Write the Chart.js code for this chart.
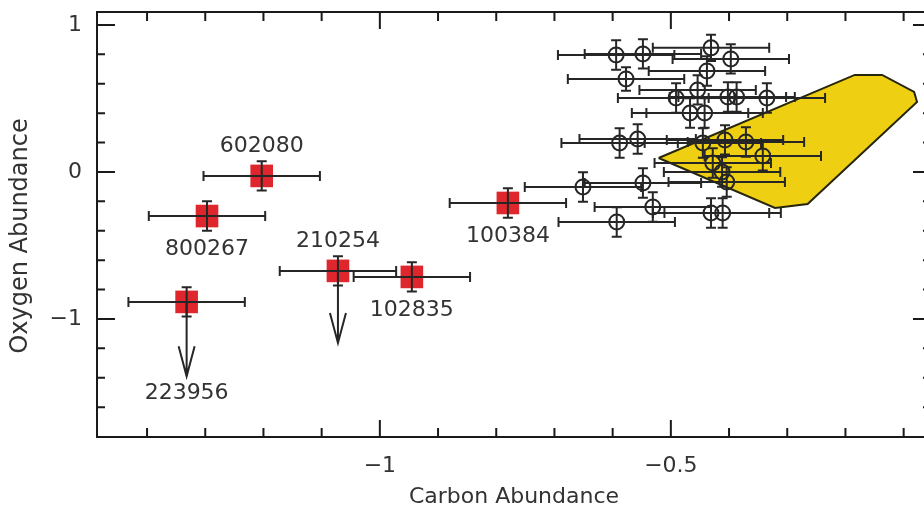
<!DOCTYPE html>
<html>
<head>
<meta charset="utf-8">
<script src="https://cdn.jsdelivr.net/npm/chart.js@4.4.1/dist/chart.umd.min.js"></script>
<style>
  html, body { margin: 0; padding: 0; background: #fff; overflow: hidden; }
  canvas { display: block; margin-top: -4px; }
</style>
</head>
<body>
<canvas id="chart" width="947" height="512"></canvas>
<script>
// labelled stars (red squares)
const starNames = ['602080', '800267', '223956', '210254', '102835', '100384'];
const starCarbon = [-1.203, -1.297, -1.332, -1.072, -0.945, -0.780];
const starOxygen = [-0.027, -0.300, -0.884, -0.673, -0.714, -0.211];
const starCarbonErr = [0.1, 0.1, 0.1, 0.1, 0.1, 0.1];
const starOxygenErr = [0.1, 0.1, 0.1, 0.1, 0.1, 0.1];
const starOxygenLimit = [null, null, -1.39, -1.163, null, null];
const starLabelSide = ['above', 'below', 'below', 'above', 'below', 'below'];

// comparison sample (open circles)
const sampleCarbon = [-0.594, -0.548, -0.431, -0.397, -0.438, -0.577, -0.454, -0.491, -0.402, -0.387,
  -0.335, -0.467, -0.442, -0.588, -0.557, -0.445, -0.407, -0.371, -0.342, -0.428,
  -0.412, -0.404, -0.651, -0.548, -0.531, -0.593, -0.431, -0.411];
const sampleOxygen = [0.796, 0.803, 0.844, 0.769, 0.687, 0.633, 0.558, 0.503, 0.510, 0.510,
  0.503, 0.401, 0.401, 0.197, 0.224, 0.197, 0.218, 0.204, 0.109, 0.061,
  0.000, -0.068, -0.102, -0.075, -0.238, -0.340, -0.279, -0.279];
const sampleCarbonErr = [0.1, 0.1, 0.1, 0.1, 0.1, 0.1, 0.1, 0.1, 0.1, 0.1,
  0.1, 0.1, 0.1, 0.1, 0.1, 0.1, 0.1, 0.1, 0.1, 0.1,
  0.1, 0.1, 0.1, 0.1, 0.1, 0.1, 0.1, 0.1];
const sampleOxygenErr = [0.1, 0.1, 0.09, 0.1, 0.1, 0.08, 0.1, 0.1, 0.1, 0.1,
  0.1, 0.1, 0.1, 0.1, 0.1, 0.1, 0.1, 0.1, 0.1, 0.1,
  0.1, 0.1, 0.1, 0.1, 0.1, 0.1, 0.1, 0.1];

// shaded region
const regionCarbon = [-0.521, -0.184, -0.137, -0.082, -0.077, -0.265, -0.321, -0.521];
const regionOxygen = [0.095, 0.660, 0.660, 0.544, 0.476, -0.218, -0.245, 0.095];

// axes
const xLabelTicks = [-1, -0.5];
const yLabelTicks = [1, 0, -1];
const xMinorTicks = [-1.4, -1.3, -1.2, -1.1, -0.9, -0.8, -0.7, -0.6, -0.4, -0.3, -0.2, -0.1];
const yMinorTicks = [0.8, 0.6, 0.4, 0.2, -0.2, -0.4, -0.6, -0.8, -1.2, -1.4, -1.6];

const FONT = '"DejaVu Sans", sans-serif';
const TEXT = '#333';
const INK = '#262626';

const fmt = v => (v < 0 ? '\u2212' + Math.abs(v) : String(v));
const pts = (xs, ys) => xs.map((v, i) => ({ x: v, y: ys[i] }));

// error bars, upper-limit arrows and star names
const markings = {
  id: 'markings',
  afterDatasetsDraw(chart) {
    const { ctx, scales: { x, y } } = chart;
    ctx.save();
    ctx.strokeStyle = INK;
    ctx.lineWidth = 2;
    const bar = (cx, cy, ex, ey) => {
      const px = x.getPixelForValue(cx), py = y.getPixelForValue(cy);
      const x0 = x.getPixelForValue(cx - ex), x1 = x.getPixelForValue(cx + ex);
      const y0 = y.getPixelForValue(cy + ey), y1 = y.getPixelForValue(cy - ey);
      ctx.beginPath();
      ctx.moveTo(x0, py); ctx.lineTo(x1, py);
      ctx.moveTo(x0, py - 5); ctx.lineTo(x0, py + 5);
      ctx.moveTo(x1, py - 5); ctx.lineTo(x1, py + 5);
      ctx.moveTo(px, y0); ctx.lineTo(px, y1);
      ctx.moveTo(px - 5, y0); ctx.lineTo(px + 5, y0);
      ctx.moveTo(px - 5, y1); ctx.lineTo(px + 5, y1);
      ctx.stroke();
    };
    sampleCarbon.forEach((c, i) => bar(c, sampleOxygen[i], sampleCarbonErr[i], sampleOxygenErr[i]));
    starCarbon.forEach((c, i) => bar(c, starOxygen[i], starCarbonErr[i], starOxygenErr[i]));

    // upper limits
    starOxygenLimit.forEach((lim, i) => {
      if (lim === null) return;
      const px = x.getPixelForValue(starCarbon[i]);
      const py = y.getPixelForValue(starOxygen[i]);
      const ly = y.getPixelForValue(lim);
      ctx.beginPath();
      ctx.moveTo(px, py); ctx.lineTo(px, ly);
      ctx.moveTo(px - 8, ly - 30); ctx.lineTo(px, ly); ctx.lineTo(px + 8, ly - 30);
      ctx.stroke();
    });

    // names
    ctx.fillStyle = TEXT;
    ctx.font = '22px ' + FONT;
    ctx.textAlign = 'center';
    ctx.textBaseline = 'middle';
    starNames.forEach((name, i) => {
      const px = x.getPixelForValue(starCarbon[i]);
      const py = y.getPixelForValue(starOxygen[i]);
      let ty;
      if (starOxygenLimit[i] !== null && starLabelSide[i] === 'below') {
        ty = y.getPixelForValue(starOxygenLimit[i]) + 17;
      } else if (starLabelSide[i] === 'below') {
        ty = py + 33;
      } else {
        ty = py - 30;
      }
      ctx.fillText(name, px, ty);
    });
    ctx.restore();
  }
};

// box frame with inward ticks on all four sides
const frame = {
  id: 'frame',
  afterDraw(chart) {
    const { ctx, chartArea: a, scales: { x, y } } = chart;
    ctx.save();
    ctx.strokeStyle = '#1a1a1a';
    ctx.lineWidth = 2;
    ctx.strokeRect(a.left, a.top, a.right - a.left, a.bottom - a.top);
    ctx.beginPath();
    const xt = (v, len) => {
      const p = x.getPixelForValue(v);
      ctx.moveTo(p, a.bottom); ctx.lineTo(p, a.bottom - len);
      ctx.moveTo(p, a.top); ctx.lineTo(p, a.top + len);
    };
    const yt = (v, len) => {
      const p = y.getPixelForValue(v);
      ctx.moveTo(a.left, p); ctx.lineTo(a.left + len, p);
      ctx.moveTo(a.right, p); ctx.lineTo(a.right - len, p);
    };
    xLabelTicks.forEach(v => xt(v, 17));
    xMinorTicks.forEach(v => xt(v, 9));
    yLabelTicks.forEach(v => yt(v, 18));
    yMinorTicks.forEach(v => yt(v, 8));
    ctx.stroke();
    ctx.restore();
  }
};

new Chart(document.getElementById('chart'), {
  type: 'scatter',
  data: {
    datasets: [
      {
        label: 'stars',
        data: pts(starCarbon, starOxygen),
        pointStyle: 'rect',
        pointRadius: 16,
        backgroundColor: '#e0262d',
        borderWidth: 0,
        order: 1
      },
      {
        label: 'sample',
        data: pts(sampleCarbon, sampleOxygen),
        pointStyle: 'circle',
        pointRadius: 7.5,
        backgroundColor: 'rgba(0,0,0,0)',
        borderColor: INK,
        borderWidth: 2,
        order: 2
      },
      {
        label: 'region',
        data: pts(regionCarbon, regionOxygen),
        showLine: true,
        fill: 'shape',
        tension: 0,
        pointRadius: 0,
        backgroundColor: '#efcf12',
        borderColor: '#26260c',
        borderWidth: 2,
        order: 5
      }
    ]
  },
  options: {
    responsive: false,
    animation: false,
    layout: { padding: { top: 12, right: 9, bottom: 0, left: 0 } },
    plugins: { legend: { display: false }, tooltip: { enabled: false } },
    scales: {
      x: {
        type: 'linear',
        min: -1.486,
        max: -0.053,
        grid: { display: false, drawTicks: false },
        border: { display: false },
        afterBuildTicks: s => { s.ticks = xLabelTicks.map(v => ({ value: v })); },
        afterFit: s => { s.height = 71; s.paddingLeft = 0; s.paddingRight = 0; },
        ticks: {
          padding: 16,
          color: TEXT,
          autoSkip: false,
          maxRotation: 0,
          font: { family: FONT, size: 22 },
          callback: fmt
        },
        title: {
          display: true,
          text: 'Carbon Abundance',
          color: TEXT,
          font: { family: FONT, size: 22, lineHeight: 1 },
          padding: 0
        }
      },
      y: {
        type: 'linear',
        min: -1.803,
        max: 1.088,
        grid: { display: false, drawTicks: false },
        border: { display: false },
        afterBuildTicks: s => { s.ticks = yLabelTicks.map(v => ({ value: v })); },
        afterFit: s => { s.width = 97; s.paddingTop = 0; s.paddingBottom = 0; },
        ticks: {
          padding: 15,
          color: TEXT,
          autoSkip: false,
          font: { family: FONT, size: 22 },
          callback: fmt
        },
        title: {
          display: true,
          text: 'Oxygen Abundance   ',
          color: TEXT,
          font: { family: FONT, size: 24, lineHeight: 1 },
          padding: { top: 9, bottom: 0 }
        }
      }
    }
  },
  plugins: [markings, frame]
});
</script>
</body>
</html>
